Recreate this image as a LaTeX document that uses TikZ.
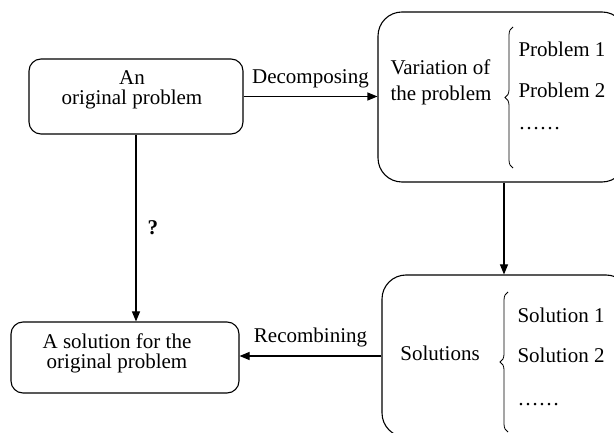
\documentclass[tikz,border=0pt]{standalone}
\usepackage{fontspec}
\setmainfont{Liberation Serif}
\usetikzlibrary{arrows.meta,decorations.pathreplacing}

\begin{document}
\begin{tikzpicture}[x=1bp,y=-1bp,line width=1.1bp,
  >={Triangle[length=10bp,width=8bp]},
  box/.style={draw,rounded corners=12bp,inner sep=0pt},
  bigbox/.style={draw,rounded corners=24bp,inner sep=0pt},
  txt/.style={inner sep=0pt,font=\fontsize{21bp}{20bp}\selectfont},
  brace/.style={decorate,decoration={brace,amplitude=8bp},line width=0.8bp}]
  \useasboundingbox (0,0) rectangle (614,433);
  % boxes
  \node[box,minimum width=214bp,minimum height=75bp] (orig) at (136,96.5) {};
  \node[box,minimum width=228bp,minimum height=71bp] (ans) at (125,357.5) {};
  \node[bigbox,minimum width=248bp,minimum height=170bp] (var) at (502,97) {};
  \node[bigbox,minimum width=248bp,minimum height=162bp] (sol) at (506,356) {};
  % texts in the boxes
  \node[txt,align=center] (origtxt) at (132,90.2) {An\\original problem};
  \node[txt,align=center] (anstxt) at (117,353.2) {A solution for the\\original problem};
  \node[txt,align=left,anchor=west] (vartxt) at (390,82.2) {Variation of\\[6bp]the problem};
  \node[txt,anchor=base] (soltxt) at (440,360) {Solutions};
  \foreach \t/\y [count=\i] in {Problem 1/57,Problem 2/98,……/130}
    \node[txt,anchor=base west] (p\i) at (518,\y) {\t};
  \foreach \t/\y [count=\i] in {Solution 1/322,Solution 2/362,……/405}
    \node[txt,anchor=base west] (s\i) at (517,\y) {\t};
  \draw[brace] (513,168) -- (513,27);
  \draw[brace] (508,432) -- (508,292);
  % connectors
  \draw[->] (orig.east) -- node[txt,above=8bp] (dec) {Decomposing} (orig.east -| var.west);
  \draw[->] (orig.south) -- node[txt,right=11bp] (q) {\bfseries ?} (orig.south |- ans.north);
  \draw[->] ([xshift=2bp]var.south) -- ([xshift=2bp]var.south |- sol.north);
  \draw[->] (sol.west) -- node[txt,above=8bp] (rec) {Recombining} (sol.west -| ans.east);
\end{tikzpicture}
\end{document}
